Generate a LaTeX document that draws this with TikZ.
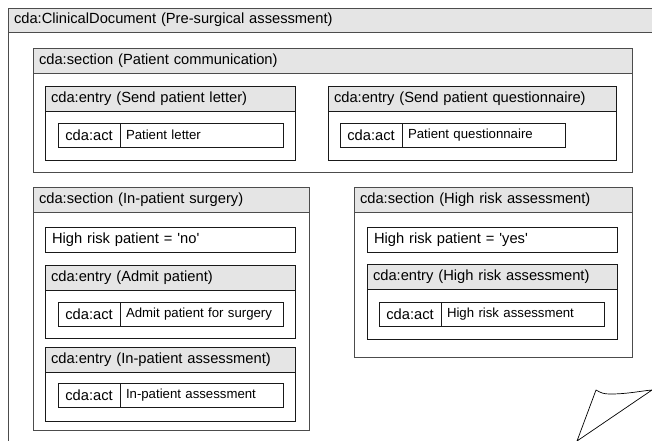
\documentclass[tikz,border=0pt]{standalone}
\usepackage{fontspec}
\setmainfont{Liberation Sans}
\usepackage{tikz}
\usetikzlibrary{positioning}
\tikzset{
    frame/.style={rectangle, draw=black!70, fill=white, line width=1pt, anchor=north west, inner sep=0pt, outer sep=0pt},
    header/.style={frame, fill=black!10, minimum height=25pt, inner xsep=6pt, align=left, font=\fontsize{14.7}{17}\selectfont},
    entrybox/.style={frame, draw=black!90},
    entryhead/.style={header, draw=black!90},
    condbox/.style={frame, draw=black!90, minimum height=25pt, inner xsep=7pt, align=left, font=\fontsize{14.7}{17}\selectfont},
    actname/.style={frame, draw=black!90, minimum width=62pt, minimum height=24pt, font=\fontsize{14.7}{17}\selectfont},
    actval/.style={frame, draw=black!90, minimum width=163pt, minimum height=24pt, inner xsep=6pt, text width=151pt, align=left, font=\fontsize{13.2}{15}\selectfont},
    curl/.style={draw=black, fill=white, line width=0.7pt, line join=round}
}
\begin{document}
\begin{tikzpicture}[x=1pt, y=-1pt]
    \clip (0,0) rectangle (652,440);

    % document
    \node (doc) [frame, minimum width=660pt, minimum height=450pt] at (8,8) {};
    \node (dochead) [header, minimum height=24pt, text width=648pt] at (doc.north west) {cda:ClinicalDocument (Pre-surgical assessment)};

    % section: patient communication
    \node (comm) [frame, minimum width=599pt, minimum height=124pt] at (33,48) {};
    \node (commhead) [header, text width=587pt] at (comm.north west) {cda:section (Patient communication)};
    \node (letter) [entrybox, minimum width=250pt, minimum height=74pt] at (45,86) {};
    \node (letterhead) [entryhead, text width=238pt] at (letter.north west) {cda:entry (Send patient letter)};
    \node (letteract) [actname] at (58,123) {cda:act};
    \node (letterval) [actval, right=0pt of letteract] {Patient letter};
    \node (quest) [entrybox, minimum width=288pt, minimum height=74pt] at (328,86) {};
    \node (questhead) [entryhead, text width=276pt] at (quest.north west) {cda:entry (Send patient questionnaire)};
    \node (questact) [actname] at (340,123) {cda:act};
    \node (questval) [actval, right=0pt of questact] {Patient questionnaire};

    % section: in-patient surgery
    \node (surg) [frame, minimum width=276pt, minimum height=243pt] at (33,187) {};
    \node (surghead) [header, text width=264pt] at (surg.north west) {cda:section (In-patient surgery)};
    \node (riskno) [condbox, text width=236pt] at (45,227) {High risk patient = \textquotesingle no\textquotesingle};
    \node (admit) [entrybox, minimum width=250pt, minimum height=73pt] at (45,265) {};
    \node (admithead) [entryhead, text width=238pt] at (admit.north west) {cda:entry (Admit patient)};
    \node (admitact) [actname] at (58,302) {cda:act};
    \node (admitval) [actval, right=0pt of admitact] {Admit patient for surgery};
    \node (inpat) [entrybox, minimum width=250pt, minimum height=74pt] at (45,347) {};
    \node (inpathead) [entryhead, text width=238pt] at (inpat.north west) {cda:entry (In-patient assessment)};
    \node (inpatact) [actname] at (58,383) {cda:act};
    \node (inpatval) [actval, right=0pt of inpatact] {In-patient assessment};

    % section: high risk assessment
    \node (risk) [frame, minimum width=278pt, minimum height=170pt] at (354,187) {};
    \node (riskhead) [header, text width=266pt] at (risk.north west) {cda:section (High risk assessment)};
    \node (riskyes) [condbox, text width=236pt] at (367,227) {High risk patient = \textquotesingle yes\textquotesingle};
    \node (hra) [entrybox, minimum width=250pt, minimum height=75pt] at (367,264) {};
    \node (hrahead) [entryhead, text width=238pt] at (hra.north west) {cda:entry (High risk assessment)};
    \node (hraact) [actname] at (379,302) {cda:act};
    \node (hraval) [actval, right=0pt of hraact] {High risk assessment};

    % curled page corner
    \draw [curl] (596,390) .. controls (601,393) and (604,394) .. (610,394)
        .. controls (628,394) and (640,391) .. (652,390) -- (577,441) -- cycle;
\end{tikzpicture}
\end{document}
